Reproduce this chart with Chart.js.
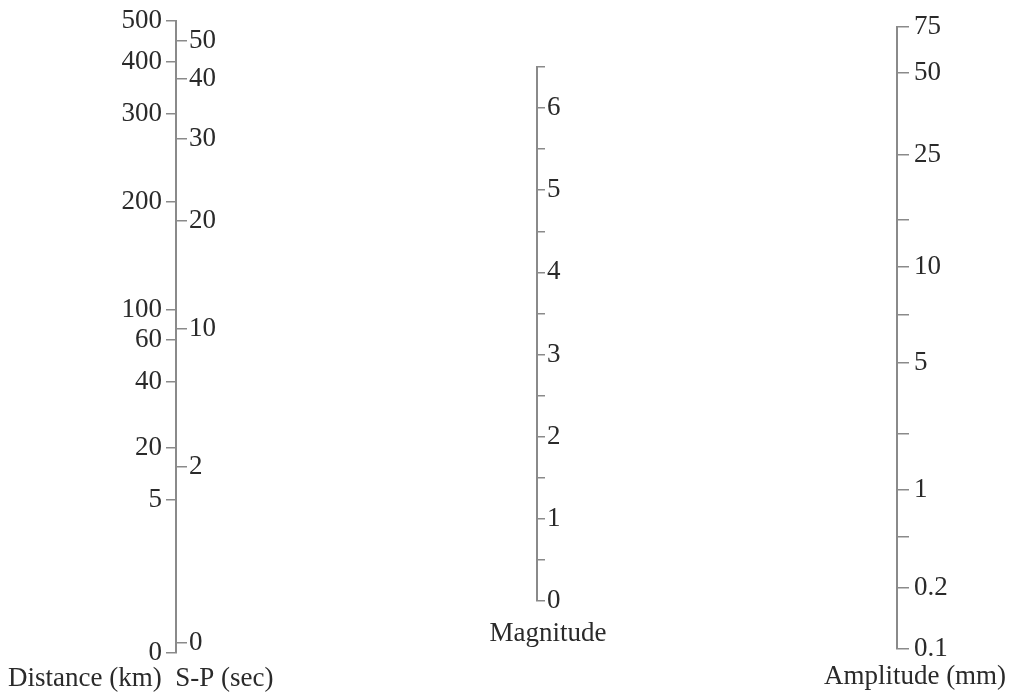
<!DOCTYPE html>
<html>
<head>
<meta charset="utf-8">
<title>Magnitude nomogram</title>
<script src="https://cdn.jsdelivr.net/npm/chart.js@4.4.1/dist/chart.umd.min.js"></script>
<style>
  html, body { margin: 0; padding: 0; background: #fff; }
  #wrap { position: relative; width: 1016px; height: 695px; overflow: hidden; }
  canvas { position: absolute; top: 0; }
</style>
</head>
<body>
<div id="wrap">
  <canvas id="distChart" width="330" height="695" style="left:0px"></canvas>
  <canvas id="magChart" width="296" height="695" style="left:400px"></canvas>
  <canvas id="ampChart" width="202" height="695" style="left:814px"></canvas>
</div>
<script>
// Scale positions are given in % of the line height, measured from the bottom end

// Distance (km) - left side of the first line
const distLabels = ['0', '5', '20', '40', '60', '100', '200', '300', '400', '500'];
const distPos = [0, 24.2, 32.4, 42.9, 49.5, 54.3, 71.4, 85.3, 93.5, 100];

// S-P (sec) - right side of the same line
const spLabels = ['0', '2', '10', '20', '30', '40', '50'];
const spPos = [1.6, 29.4, 51.3, 68.4, 81.3, 90.8, 96.8];

// Magnitude - middle line, linear
const magTicks = [0, 0.5, 1, 1.5, 2, 2.5, 3, 3.5, 4, 4.5, 5, 5.5, 6, 6.5];
const magLabels = ['0', '', '1', '', '2', '', '3', '', '4', '', '5', '', '6', ''];

// Amplitude (mm) - right line
const ampLabels = ['0.1', '0.2', '', '1', '', '5', '', '10', '', '25', '50', '75'];
const ampPos = [0, 9.8, 18.0, 25.6, 34.6, 46.0, 53.7, 61.4, 69.0, 79.4, 92.6, 100];

const AXIS_GREY = '#8a8a8a';
const TEXT = '#2a2a2a';
const FONT = { family: '"Liberation Serif", "Times New Roman", serif', size: 27, weight: 'normal' };

function nomoAxis(position, values, labels, opts) {
  return {
    type: 'linear',
    axis: 'y',
    position: position,
    min: opts.min,
    max: opts.max,
    afterBuildTicks: scale => {
      scale.ticks = values.map(v => ({ value: v }));
    },
    afterFit: scale => {
      scale.width = opts.width;
    },
    border: { display: opts.border !== false, color: AXIS_GREY, width: 2 },
    grid: {
      drawOnChartArea: false,
      drawTicks: true,
      tickLength: opts.tickLength,
      color: AXIS_GREY,
      lineWidth: 1.5
    },
    ticks: {
      autoSkip: false,
      padding: opts.padding,
      color: TEXT,
      font: FONT,
      callback: (v, i) => labels[i]
    }
  };
}

function caption(text, align, padTop) {
  return {
    display: true,
    position: 'bottom',
    align: align,
    text: text,
    color: TEXT,
    font: FONT,
    padding: { top: padTop, bottom: 0 }
  };
}

const baseOptions = {
  responsive: false,
  animation: false,
  events: []
};

// Distance / S-P line
new Chart(document.getElementById('distChart'), {
  type: 'scatter',
  data: { datasets: [] },
  options: {
    ...baseOptions,
    layout: { padding: { left: 8, right: 0, top: 21, bottom: 0 } },
    plugins: {
      legend: { display: false },
      tooltip: { enabled: false },
      title: caption('Distance (km)  S-P (sec)', 'start', 9.6)
    },
    scales: {
      x: { type: 'linear', display: false, min: 0, max: 1 },
      dist: nomoAxis('left', distPos, distLabels, { min: 0, max: 100, width: 168, tickLength: 10, padding: 4 }),
      sp: nomoAxis('right', spPos, spLabels, { min: 0, max: 100, width: 153, tickLength: 10, padding: 2, border: false })
    }
  }
});

// Magnitude line
new Chart(document.getElementById('magChart'), {
  type: 'scatter',
  data: { datasets: [] },
  options: {
    ...baseOptions,
    layout: { padding: { left: 0, right: 0, top: 67, bottom: 44.8 } },
    plugins: {
      legend: { display: false },
      tooltip: { enabled: false },
      title: caption('Magnitude', 'center', 16.8)
    },
    scales: {
      x: { type: 'linear', display: false, min: 0, max: 1 },
      mag: nomoAxis('right', magTicks, magLabels, { min: 0, max: 6.5, width: 159, tickLength: 8, padding: 2 })
    }
  }
});

// Amplitude line
new Chart(document.getElementById('ampChart'), {
  type: 'scatter',
  data: { datasets: [] },
  options: {
    ...baseOptions,
    layout: { padding: { left: 0, right: 0, top: 27, bottom: 1.8 } },
    plugins: {
      legend: { display: false },
      tooltip: { enabled: false },
      title: caption('Amplitude (mm)', 'center', 11.8)
    },
    scales: {
      x: { type: 'linear', display: false, min: 0, max: 1 },
      amp: nomoAxis('right', ampPos, ampLabels, { min: 0, max: 100, width: 119, tickLength: 12, padding: 5 })
    }
  }
});
</script>
</body>
</html>
